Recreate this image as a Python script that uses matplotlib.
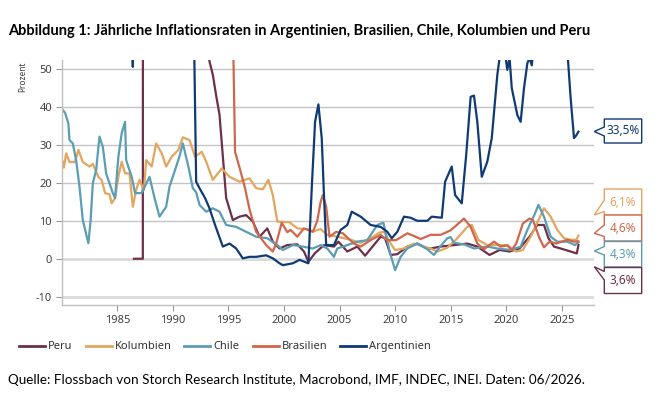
import matplotlib
matplotlib.use("Agg")
import matplotlib.pyplot as plt
from matplotlib.patches import Polygon
from matplotlib.lines import Line2D
from matplotlib.transforms import Affine2D

W, H = 658, 415

# data: (decimal year, inflation in %)
peru_x = [1986.5, 1987.3, 1987.32, 1988.0, 1989.0, 1990.5, 1991.5, 1992.5, 1993.3, 1993.6, 1993.9, 1994.2,
          1994.5, 1994.8, 1995.4, 1996.0, 1996.6, 1997.2, 1997.8, 1998.5, 1999.0, 1999.6, 2000.3, 2001.2,
          2001.8, 2002.2, 2002.8, 2003.6, 2004.5, 2004.9, 2005.7, 2006.6, 2007.3, 2008.7, 2009.1, 2009.6,
          2010.2, 2011.1, 2012.0, 2012.9, 2013.2, 2014.1, 2015.3, 2016.5, 2017.4, 2018.5, 2019.4, 2020.3,
          2021.2, 2022.1, 2022.8, 2023.4, 2023.8, 2024.3, 2024.9, 2025.8, 2026.35, 2026.5]
peru_y = [0, 0, 150, 600, 3000, 7000, 200, 70, 52, 48.5, 43, 38,
          27, 16, 10.2, 11.1, 11.5, 9.8, 5.8, 8.0, 4.5, 2.7, 3.6, 3.8,
          1.9, -0.8, 1.5, 3.6, 3.2, 4.5, 1.9, 3.2, 0.8, 5.8, 5.4, 1.0,
          1.2, 3.2, 4.0, 2.7, 2.7, 3.2, 3.6, 4.0, 3.2, 1.0, 2.3, 1.9,
          2.7, 5.8, 8.9, 8.9, 5.4, 3.2, 2.7, 1.9, 1.4, 3.6]

kol_x = [1980.1, 1980.2, 1980.4, 1980.7, 1981.2, 1981.5, 1981.9, 1982.5, 1982.8, 1983.3, 1983.6, 1983.9,
         1984.3, 1984.5, 1984.8, 1985.1, 1985.4, 1985.7, 1986.1, 1986.4, 1986.7, 1987.0, 1987.4, 1987.6,
         1988.1, 1988.5, 1989.0, 1989.4, 1989.9, 1990.5, 1990.9, 1991.5, 1992.0, 1992.6, 1993.0, 1993.6,
         1994.4, 1995.1, 1996.0, 1996.9, 1997.5, 1998.1, 1998.6, 1999.0, 1999.4, 2000.5, 2001.2, 2002.1,
         2002.6, 2003.3, 2003.9, 2004.8, 2006.0, 2006.9, 2007.8, 2008.6, 2009.0, 2009.6, 2010.0, 2010.8,
         2011.7, 2012.6, 2013.2, 2013.8, 2014.7, 2015.6, 2016.5, 2016.9, 2017.5, 2018.3, 2019.2, 2020.1,
         2020.9, 2021.5, 2022.2, 2022.9, 2023.4, 2024.0, 2024.6, 2025.2, 2025.8, 2026.3, 2026.5]
kol_y = [25.6, 24, 27.8, 25.5, 25.5, 28.7, 25.5, 24.3, 25, 21.6, 20.7, 17.3,
         17, 14.6, 16, 21.6, 25.6, 22.5, 22.5, 13.7, 18.1, 20.8, 18.1, 26,
         24.3, 30.4, 27.8, 24.3, 26.9, 28.7, 32, 31.3, 26.9, 28.2, 25.6, 20.8,
         23.8, 21.6, 20.3, 21.2, 18.6, 18.3, 20.8, 16.8, 9.8, 9.6, 8.0, 7.8,
         7.2, 7.8, 6.3, 5.8, 5.0, 4.2, 5.4, 6.9, 7.1, 4.0, 2.3, 2.7,
         4.0, 3.2, 2.7, 1.9, 2.9, 5.4, 8.4, 8.9, 4.9, 3.6, 3.6, 3.6,
         1.9, 2.3, 5.8, 10.2, 13.3, 11.1, 7.6, 5.4, 5.0, 5.0, 6.1]

chile_x = [1980.1, 1980.3, 1980.6, 1980.7, 1981.0, 1981.3, 1981.6, 1981.9, 1982.2, 1982.4, 1982.6, 1982.8,
           1983.1, 1983.4, 1983.7, 1984.0, 1984.3, 1984.6, 1984.8, 1985.1, 1985.4, 1985.7, 1985.8, 1986.3,
           1986.6, 1987.2, 1987.9, 1988.4, 1988.8, 1989.4, 1989.7, 1990.2, 1990.6, 1990.9, 1991.4, 1991.8,
           1992.1, 1992.4, 1993.0, 1993.6, 1994.2, 1994.8, 1995.7, 1996.6, 1997.5, 1998.5, 1999.4, 1999.9,
           2000.8, 2001.7, 2002.6, 2003.3, 2003.9, 2004.5, 2004.8, 2005.7, 2006.6, 2007.5, 2008.4, 2008.95,
           2009.5, 2010.0, 2010.5, 2011.1, 2012.0, 2012.9, 2013.5, 2014.0, 2014.7, 2015.0, 2015.3, 2016.2,
           2017.1, 2018.3, 2019.2, 2020.4, 2021.3, 2021.9, 2022.6, 2022.9, 2023.4, 2024.0, 2024.6, 2025.5,
           2026.2, 2026.5]
chile_y = [39.2, 38.5, 35.7, 31.3, 30.4, 26, 19, 10.2, 6.5, 4.1, 10, 19.9,
           23.4, 32.2, 29.5, 22.5, 19.9, 17.3, 16, 26.9, 33.1, 36.1, 26, 21.6,
           17.3, 17.3, 21.6, 15.5, 11.1, 13.7, 19, 23.4, 27, 30.4, 24.3, 18.6,
           17.5, 14.2, 12.4, 13.3, 12.4, 8.9, 8.4, 7.1, 5.8, 5.4, 3.6, 2.3,
           3.6, 3.2, 2.7, 3.6, 2.7, 0.5, 2.7, 3.6, 4.5, 4.9, 8.9, 9.5,
           2.0, -3.0, 0.5, 2.7, 4.0, 2.5, 1.0, 3.0, 5.4, 5.7, 4.2, 3.8,
           2.7, 3.2, 2.7, 2.3, 3.2, 7.6, 12.0, 14.2, 11.1, 5.8, 4.5, 4.5,
           3.6, 4.3]

bra_x = [1995.3, 1995.5, 1995.6, 1996.1, 1996.5, 1996.9, 1997.5, 1998.4, 1999.0, 1999.3, 1999.8, 2000.3,
         2000.6, 2001.2, 2001.8, 2002.6, 2003.0, 2003.3, 2003.5, 2003.8, 2004.1, 2004.7, 2005.3, 2006.3,
         2006.9, 2007.8, 2008.7, 2009.3, 2010.1, 2011.1, 2011.7, 2012.3, 2013.2, 2014.1, 2015.0, 2015.9,
         2016.2, 2016.8, 2017.4, 2018.0, 2018.9, 2019.5, 2020.1, 2020.5, 2020.9, 2021.5, 2022.1, 2022.4,
         2023.0, 2023.4, 2023.9, 2024.5, 2025.5, 2026.1, 2026.5]
bra_y = [80, 45, 28.2, 23, 18.6, 13.0, 7.1, 3.6, 1.9, 4.0, 9.5, 7.0,
         7.6, 5.8, 8.0, 7.1, 10, 15, 16.8, 13.7, 5.8, 7.1, 6.7, 4.0,
         3.2, 4.9, 6.3, 4.9, 4.9, 6.7, 6.0, 5.2, 6.3, 6.3, 7.5, 9.8,
         10.6, 8.4, 4.0, 2.5, 4.5, 3.2, 3.5, 2.3, 4.0, 9.3, 10.6, 10.2,
         5.4, 3.0, 4.5, 4.0, 5.0, 4.5, 4.6]

arg_x = [1986.3, 1986.4, 1986.5, 1987.0, 1988.5, 1989.5, 1990.5, 1991.3, 1991.9, 1992.1, 1992.4, 1992.9,
         1993.3, 1993.8, 1994.5, 1995.1, 1995.7, 1996.3, 1996.9, 1997.5, 1998.4, 1999.0, 1999.6, 1999.9,
         2000.8, 2001.4, 2002.2, 2002.5, 2002.8, 2003.1, 2003.4, 2003.6, 2003.8, 2004.5, 2005.1, 2005.7,
         2006.1, 2006.9, 2007.8, 2008.7, 2009.3, 2009.7, 2010.2, 2010.8, 2011.4, 2012.0, 2012.9, 2013.3,
         2014.2, 2014.5, 2015.1, 2015.4, 2016.0, 2016.4, 2016.8, 2017.1, 2017.4, 2017.8, 2018.3, 2018.7,
         2019.2, 2019.5, 2019.9, 2020.1, 2020.3, 2020.5, 2021.0, 2021.3, 2021.6, 2021.9, 2022.1, 2022.3,
         2022.6, 2023.0, 2024.0, 2024.5, 2025.0, 2025.5, 2025.8, 2026.1, 2026.3, 2026.5]
arg_y = [65, 50.6, 70, 110, 400, 4000, 1500, 150, 60, 20.3, 18.6, 16,
         13.3, 8.9, 3.2, 4.0, 2.7, 0.1, 0.5, 0.5, 0.9, 0.1, -1.2, -1.7,
         -1.2, -0.3, -1.2, 18.6, 36.1, 40.7, 31.8, 16.8, 3.6, 3.6, 7.6, 8.9,
         12.4, 11.1, 8.9, 8.4, 7.1, 5.4, 7.1, 11.1, 10.8, 10.0, 10.0, 11.1,
         10.8, 20.3, 24.3, 16.8, 14.6, 27.4, 42.7, 43, 36.1, 21.6, 25.6, 31.8,
         48.5, 55, 54, 49.8, 53, 45, 37.9, 36.1, 45, 51.5, 53, 51,
         60, 100, 250, 250, 100, 55, 42.3, 31.8, 32.5, 33.5]

names = ["Peru", "Kolumbien", "Chile", "Brasilien", "Argentinien"]
colors = ["#6e2f4a", "#e2a65e", "#5a9db4", "#d0674d", "#0f3a73"]
series_x = [peru_x, kol_x, chile_x, bra_x, arg_x]
series_y = [peru_y, kol_y, chile_y, bra_y, arg_y]

# callout labels, listed top to bottom: (series index, text)
callouts = [(4, "33,5%"), (1, "6,1%"), (3, "4,6%"), (2, "4,3%"), (0, "3,6%")]

yticks = [-10, 0, 10, 20, 30, 40, 50]
xticks = [1985, 1990, 1995, 2000, 2005, 2010, 2015, 2020, 2025]

title = "Abbildung 1: Jährliche Inflationsraten in Argentinien, Brasilien, Chile, Kolumbien und Peru"
source = "Quelle: Flossbach von Storch Research Institute, Macrobond, IMF, INDEC, INEI. Daten: 06/2026."

fig = plt.figure(figsize=(W / 100, H / 100), dpi=100)
# pixel coordinates (origin top-left) -> figure
T = Affine2D().scale(1 / W, -1 / H).translate(0, 1) + fig.transFigure

ax = fig.add_axes([61.7 / W, 1 - 305 / H, (594 - 61.7) / W, (305 - 60) / H])
ax.set_xlim(1980, 2027.9)
ax.set_ylim(-12.2, 52.4)

for yt in yticks:
    if yt <= 0:
        ax.axhline(yt, color="#dadada", lw=2.0, zorder=0)
    else:
        ax.axhline(yt, color="#c4c4c4", lw=1.0, zorder=0)

for xs, ys, c in zip(series_x, series_y, colors):
    ax.plot(xs, ys, color=c, lw=1.6, solid_joinstyle="round")

for s in ["top", "right"]:
    ax.spines[s].set_visible(False)
for s in ["left", "bottom"]:
    ax.spines[s].set_color("#bfbfbf")
    ax.spines[s].set_linewidth(1.0)

tick_font = {"family": "Noto Sans", "size": 8}
ax.set_yticks(yticks)
ax.set_yticklabels([str(v) for v in yticks], fontdict=tick_font, color="#404040")
ax.set_xticks(xticks)
ax.set_xticklabels([str(v) for v in xticks], fontdict=tick_font, color="#404040")
ax.tick_params(axis="both", color="#999999", length=4, width=0.8, pad=3)

fig.text(23 / W, 1 - 62 / H, "Prozent", rotation=90, ha="center", va="top",
         family="Noto Sans", fontsize=6, color="#404040")

fig.text(8 / W, 1 - 31 / H, title, ha="left", va="center", family="Lato",
         fontweight="bold", fontsize=10.5, color="black")
fig.text(8 / W, 1 - 380 / H, source, ha="left", va="center", family="Lato",
         fontsize=9.7, color="black")

# legend
leg_x = [19, 86, 184, 253, 340]
for lx, name, c in zip(leg_x, names, colors):
    fig.add_artist(Line2D([lx, lx + 26], [346, 346], color=c, lw=2, transform=T))
    fig.text((lx + 29) / W, 1 - 346 / H, name, ha="left", va="center",
             family="Noto Sans", fontsize=8, color="#333333")

# callout boxes: (top, bottom, wedge base top, wedge base bottom, tip y)
shapes = [(119, 143, 127, 136, 131.5),
          (189, 215, 200, 211.5, 215),
          (215, 241, 225, 236.5, 233.3),
          (241.5, 267, 246.5, 255, 251),
          (267.5, 293.5, 271.5, 280, 266.7)]
bx0, bx1, tipx = 604.3, 641.7, 594.3
for (idx, label), (t, b, w0, w1, ty) in zip(callouts, shapes):
    c = colors[idx]
    pts = [(bx0, t), (bx1, t), (bx1, b), (bx0, b), (bx0, w1), (tipx, ty), (bx0, w0)]
    fig.add_artist(Polygon(pts, closed=True, facecolor="white", edgecolor=c, lw=1.0, transform=T))
    fig.text((bx0 + bx1) / 2 / W, 1 - (t + b) / 2 / H, label, ha="center", va="center",
             family="Noto Sans", fontsize=8.5, color=c)

fig.savefig("out.png", dpi=100)
